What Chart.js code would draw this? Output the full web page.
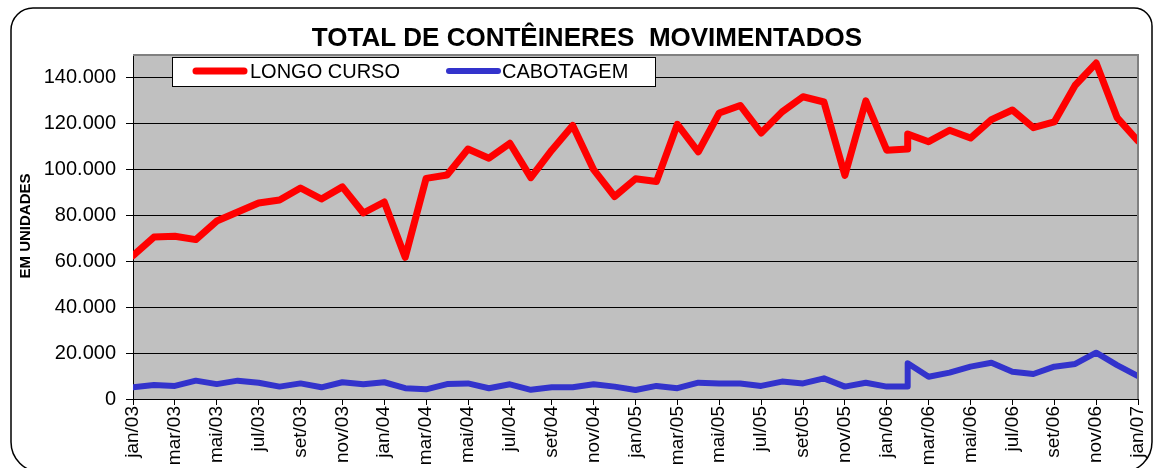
<!DOCTYPE html>
<html>
<head>
<meta charset="utf-8">
<script src="https://cdn.jsdelivr.net/npm/chart.js@4.4.0/dist/chart.umd.min.js"></script>
<style>
  html, body { margin: 0; padding: 0; background: #fff; }
  #wrap { width: 1155px; height: 468px; }
</style>
</head>
<body>
<div id="wrap"><canvas id="grafico" width="1155" height="468"></canvas></div>
<script>
// Meses do eixo X (um a cada mês, rótulo a cada dois)
const meses = [
  'jan/03','fev/03','mar/03','abr/03','mai/03','jun/03','jul/03','ago/03','set/03','out/03','nov/03','dez/03',
  'jan/04','fev/04','mar/04','abr/04','mai/04','jun/04','jul/04','ago/04','set/04','out/04','nov/04','dez/04',
  'jan/05','fev/05','mar/05','abr/05','mai/05','jun/05','jul/05','ago/05','set/05','out/05','nov/05','dez/05',
  'jan/06','fev/06','mar/06','abr/06','mai/06','jun/06','jul/06','ago/06','set/06','out/06','nov/06','dez/06',
  'jan/07'
];

// Mês de cada ponto (fev/06 aparece duas vezes na planilha)
const mesDoPonto = [
  'jan/03','fev/03','mar/03','abr/03','mai/03','jun/03','jul/03','ago/03','set/03','out/03','nov/03','dez/03',
  'jan/04','fev/04','mar/04','abr/04','mai/04','jun/04','jul/04','ago/04','set/04','out/04','nov/04','dez/04',
  'jan/05','fev/05','mar/05','abr/05','mai/05','jun/05','jul/05','ago/05','set/05','out/05','nov/05','dez/05',
  'jan/06','fev/06','fev/06','mar/06','abr/06','mai/06','jun/06','jul/06','ago/06','set/06','out/06','nov/06','dez/06',
  'jan/07'
];

// Contêineres movimentados (unidades)
const longoCurso = [
  62500, 70600, 71000, 69500, 77600, 81500, 85500, 86800, 92000, 87200, 92500, 81100,
  85900, 61800, 96200, 97700, 109000, 105000, 111500, 96500, 108500, 119300, 100000, 88300,
  96000, 94800, 119800, 107800, 124700, 128000, 116000, 125200, 131800, 129500, 97500, 130000,
  108500, 109000, 115500, 112200, 117200, 113800, 121800, 126000, 118300, 120800, 136800, 146500, 122700,
  112500
];
const cabotagem = [
  5100, 6100, 5700, 8000, 6500, 8000, 7100, 5400, 6800, 5100, 7300, 6400,
  7300, 4700, 4200, 6500, 6800, 4700, 6400, 4000, 5100, 5100, 6400, 5400,
  3900, 5700, 4700, 7100, 6800, 6800, 5700, 7600, 6800, 9000, 5400, 7100,
  5400, 5400, 15600, 9700, 11500, 14100, 15800, 11900, 10900, 14100, 15300, 20200, 14800,
  10000
];

// Rótulos do eixo Y
const ticksY = [0, 20000, 40000, 60000, 80000, 100000, 120000, 140000];

const FONTE = 'Arial, "Liberation Sans", sans-serif';

function formataMilhar(v) {
  return String(v).replace(/\B(?=(\d{3})+(?!\d))/g, '.');
}

function pontos(valores) {
  return valores.map((v, i) => ({ x: meses.indexOf(mesDoPonto[i]), y: v }));
}

// Fundo cinza, moldura, título, legenda e título do eixo Y
const extras = {
  id: 'extras',
  beforeDraw(chart) {
    const { ctx, chartArea: a } = chart;
    ctx.save();
    ctx.fillStyle = '#C0C0C0';
    ctx.fillRect(a.left, a.top, a.right - a.left, a.bottom - a.top);
    ctx.restore();
  },
  afterDatasetsDraw(chart) {
    const { ctx, chartArea: a } = chart;
    ctx.save();
    ctx.strokeStyle = '#808080';
    ctx.lineWidth = 2;
    ctx.beginPath();
    ctx.moveTo(a.left, a.top);
    ctx.lineTo(a.right, a.top);
    ctx.lineTo(a.right, a.bottom);
    ctx.stroke();
    ctx.restore();
  },
  afterDraw(chart) {
    const { ctx } = chart;
    ctx.save();

    // moldura arredondada
    ctx.strokeStyle = '#000';
    ctx.lineWidth = 1.5;
    ctx.beginPath();
    ctx.roundRect(11, 8, 1141, 464, [22, 18, 30, 30]);
    ctx.stroke();

    // título
    ctx.fillStyle = '#000';
    ctx.font = 'bold 26px ' + FONTE;
    ctx.textAlign = 'center';
    ctx.textBaseline = 'alphabetic';
    ctx.fillText('TOTAL DE CONTÊINERES  MOVIMENTADOS', 587, 46);

    // título do eixo Y
    ctx.save();
    ctx.translate(26, 226);
    ctx.rotate(-Math.PI / 2);
    ctx.font = 'bold 15px ' + FONTE;
    ctx.textBaseline = 'middle';
    ctx.fillText('EM UNIDADES', 0, 0);
    ctx.restore();

    // legenda
    ctx.fillStyle = '#fff';
    ctx.fillRect(172, 57, 483, 29);
    ctx.strokeStyle = '#000';
    ctx.lineWidth = 1;
    ctx.strokeRect(172.5, 57.5, 483, 29);
    const itens = [
      { ds: chart.data.datasets[0], x1: 196, x2: 244, tx: 250 },
      { ds: chart.data.datasets[1], x1: 449, x2: 498, tx: 502 }
    ];
    ctx.font = '20px ' + FONTE;
    ctx.textAlign = 'left';
    ctx.textBaseline = 'middle';
    itens.forEach(it => {
      ctx.strokeStyle = it.ds.borderColor;
      ctx.lineWidth = it.ds.borderWidth;
      ctx.lineCap = 'round';
      ctx.beginPath();
      ctx.moveTo(it.x1, 71);
      ctx.lineTo(it.x2, 71);
      ctx.stroke();
      ctx.fillStyle = '#000';
      ctx.fillText(it.ds.label, it.tx, 72);
    });
    ctx.restore();
  }
};

const ctx = document.getElementById('grafico').getContext('2d');
new Chart(ctx, {
  type: 'line',
  data: {
    datasets: [
      {
        label: 'LONGO CURSO',
        data: pontos(longoCurso),
        borderColor: '#FF0000',
        borderWidth: 7,
        borderJoinStyle: 'round',
        borderCapStyle: 'round',
        pointRadius: 0,
        tension: 0
      },
      {
        label: 'CABOTAGEM',
        data: pontos(cabotagem),
        borderColor: '#3333CC',
        borderWidth: 6,
        borderJoinStyle: 'round',
        borderCapStyle: 'round',
        pointRadius: 0,
        tension: 0
      }
    ]
  },
  options: {
    responsive: false,
    animation: false,
    layout: { padding: { top: 55, right: 17, left: 0, bottom: 0 } },
    plugins: {
      legend: { display: false },
      title: { display: false },
      tooltip: { enabled: false }
    },
    scales: {
      x: {
        type: 'linear',
        min: 0,
        max: meses.length - 1,
        afterBuildTicks(scale) {
          scale.ticks = meses.map((m, i) => ({ value: i })).filter(t => t.value % 2 === 0);
        },
        afterFit(scale) {
          scale.height = 69;
          scale.paddingLeft = 0;
          scale.paddingRight = 0;
        },
        ticks: {
          autoSkip: false,
          maxRotation: 90,
          minRotation: 90,
          padding: 1,
          color: '#000',
          font: { family: FONTE, size: 19 },
          callback: v => meses[v]
        },
        grid: { drawOnChartArea: false, drawTicks: true, tickLength: 6, color: '#000' },
        border: { color: '#000', width: 1 }
      },
      y: {
        min: 0,
        max: 150000,
        afterBuildTicks(scale) {
          scale.ticks = ticksY.map(v => ({ value: v }));
        },
        afterFit(scale) { scale.width = 133; },
        ticks: {
          padding: 10,
          color: '#000',
          font: { family: FONTE, size: 20 },
          callback: v => formataMilhar(v)
        },
        grid: { color: '#000', lineWidth: 1, tickLength: 7 },
        border: { color: '#000', width: 1 }
      }
    }
  },
  plugins: [extras]
});
</script>
</body>
</html>
